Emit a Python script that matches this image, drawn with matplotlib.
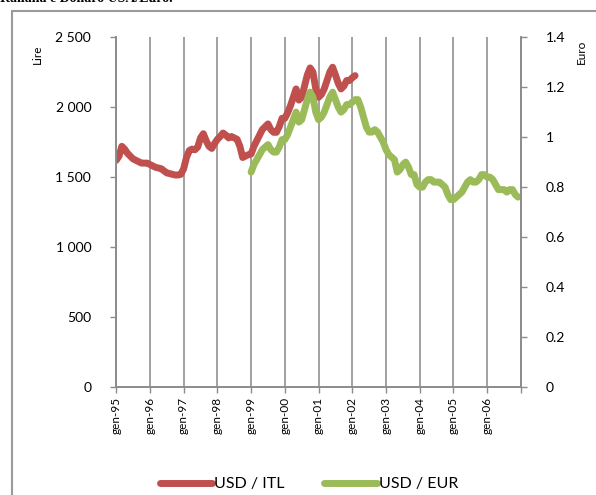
import matplotlib
matplotlib.use("Agg")
import matplotlib.pyplot as plt
from matplotlib.patches import Rectangle
import numpy as np

plt.rcParams['font.family'] = ['Lato', 'DejaVu Sans']

# USD / ITL, monthly, gen-95 .. feb-02
usd_itl = [
    1620, 1650, 1720, 1700, 1670, 1650, 1630, 1620, 1610, 1600, 1600, 1600,
    1590, 1580, 1570, 1565, 1560, 1545, 1530, 1525, 1520, 1515, 1515, 1520,
    1560, 1640, 1690, 1700, 1695, 1715, 1780, 1810, 1760, 1720, 1705, 1740,
    1770, 1790, 1815, 1800, 1780, 1790, 1780, 1770, 1720, 1640, 1650, 1660,
    1665, 1720, 1760, 1800, 1840, 1860, 1880, 1840, 1820, 1820, 1860, 1920,
    1920, 1960, 2010, 2070, 2130, 2050, 2070, 2150, 2230, 2280, 2250, 2130,
    2070, 2090, 2130, 2190, 2250, 2285, 2230, 2170, 2130, 2150, 2190, 2190,
    2210, 2225,
]

# USD / EUR, monthly, gen-99 .. dic-06
usd_eur = [
    0.86, 0.89, 0.91, 0.93, 0.95, 0.96, 0.97, 0.95, 0.94, 0.94, 0.96, 0.99,
    0.99, 1.01, 1.04, 1.07, 1.10, 1.06, 1.07, 1.11, 1.15, 1.18, 1.16, 1.10,
    1.07, 1.08, 1.10, 1.13, 1.16, 1.18, 1.15, 1.12, 1.10, 1.11, 1.13, 1.13,
    1.14, 1.15, 1.15, 1.12, 1.08, 1.04, 1.02, 1.02, 1.03, 1.02, 1.00, 0.98,
    0.95, 0.93, 0.92, 0.91, 0.86, 0.87, 0.89, 0.90, 0.88, 0.85, 0.85, 0.81,
    0.80, 0.80, 0.82, 0.83, 0.83, 0.82, 0.82, 0.82, 0.81, 0.80, 0.77, 0.75,
    0.75, 0.76, 0.77, 0.78, 0.80, 0.82, 0.83, 0.82, 0.82, 0.83, 0.85, 0.85,
    0.84, 0.84, 0.83, 0.81, 0.79, 0.79, 0.79, 0.78, 0.79, 0.79, 0.77, 0.76,
]

year_labels = ['gen-95', 'gen-96', 'gen-97', 'gen-98', 'gen-99', 'gen-00',
               'gen-01', 'gen-02', 'gen-03', 'gen-04', 'gen-05', 'gen-06']
lire_ticks = [0, 500, 1000, 1500, 2000, 2500]
lire_labels = ['0', '500', '1 000', '1 500', '2 000', '2 500']
euro_ticks = [0, 0.2, 0.4, 0.6, 0.8, 1.0, 1.2, 1.4]
euro_labels = ['0', '0.2', '0.4', '0.6', '0.8', '1', '1.2', '1.4']

red = '#C0504D'
green = '#9BBB59'
grey = '#8c8c8c'

fig = plt.figure(figsize=(5.96, 4.95), dpi=100)
ax = fig.add_axes([0.195, 0.218, 0.679, 0.707])
ax2 = ax.twinx()

x_itl = np.arange(len(usd_itl))
x_eur = np.arange(len(usd_eur)) + 48

l1, = ax.plot(x_itl, usd_itl, color=red, lw=5, solid_capstyle='round',
              label='USD / ITL')
l2, = ax2.plot(x_eur, usd_eur, color=green, lw=5, solid_capstyle='round',
               label='USD / EUR')

ax.set_xlim(0, 144)
ax.set_ylim(0, 2500)
ax2.set_ylim(0, 1.4)

ax.set_xticks(np.arange(0, 145, 12))
ax.set_xticklabels(year_labels + [''], rotation=90, fontsize=8.5)
ax.xaxis.grid(True, color='#9a9a9a', lw=1.3)
ax.set_axisbelow(True)

ax.set_yticks(lire_ticks)
ax.set_yticklabels(lire_labels, fontsize=10)
ax2.set_yticks(euro_ticks)
ax2.set_yticklabels(euro_labels, fontsize=10)

for a in (ax, ax2):
    a.spines['top'].set_visible(False)
    for s in ('left', 'right', 'bottom'):
        a.spines[s].set_color(grey)
        a.spines[s].set_linewidth(1.2)
    a.tick_params(colors=grey, labelcolor='black', length=4, width=1)
ax.tick_params(axis='y', pad=14)
ax2.tick_params(axis='y', pad=14)
ax.tick_params(axis='x', pad=3)

fig.text(0.062, 0.89, 'Lire', rotation=90, fontsize=8.5, ha='center', va='center')
fig.text(0.975, 0.895, 'Euro', rotation=90, fontsize=8.5, ha='center', va='center')

fig.legend(handles=[l1, l2], loc='center', bbox_to_anchor=(0.518, 0.022),
           ncol=2, frameon=False, fontsize=11.5, handlelength=3.3,
           handletextpad=0.1, columnspacing=2.5)

fig.patches.append(Rectangle((0.02, -0.05), 1.2, 1.028, transform=fig.transFigure,
                             fill=False, edgecolor='#9a9a9a', lw=1.5))

fig.text(0.0, 1.004, 'Italiana e Dollaro USA/Euro.', fontsize=10, fontweight='bold',
         family='Liberation Serif', ha='left', va='center')

fig.savefig('out.png', dpi=100)
